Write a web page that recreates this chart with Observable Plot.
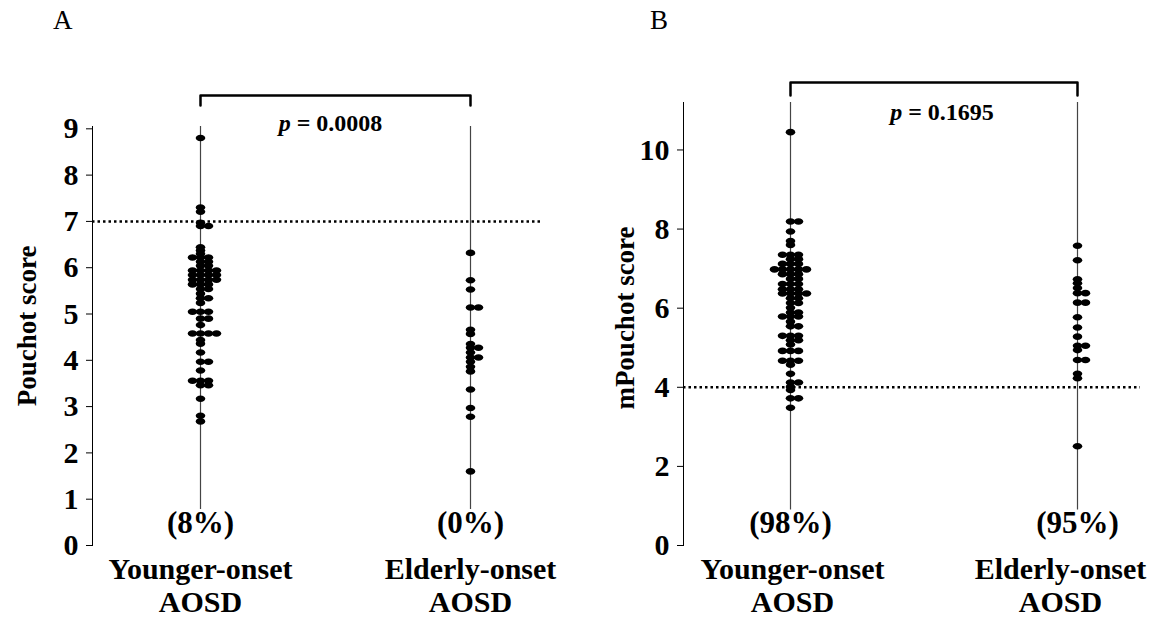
<!DOCTYPE html>
<html><head><meta charset="utf-8">
<script src="https://cdn.jsdelivr.net/npm/d3@7"></script>
<script src="https://cdn.jsdelivr.net/npm/@observablehq/plot@0.6"></script>
<style>
body{margin:0;background:#fff;}
#wrap{position:relative;width:1152px;height:621px;font-family:"Liberation Serif","Times New Roman",serif;overflow:hidden;}
.panel{position:absolute;top:0;}
.letter{position:absolute;top:7px;font-size:27px;line-height:1;font-family:"Liberation Serif","Times New Roman",serif;}
</style></head><body>
<div id="wrap"></div>
<script>
// ---- data ----
const groups = ["Younger-onset\nAOSD", "Elderly-onset\nAOSD"];
const pouchotYounger = [8.8, 7.3, 7.21, 6.97, 6.9, 6.9, 6.44, 6.37, 6.3, 6.22, 6.22, 6.22, 6.13, 6.13, 6.04, 6.04,
  5.94, 5.94, 5.94, 5.94, 5.84, 5.84, 5.84, 5.84, 5.74, 5.74, 5.74, 5.74, 5.64, 5.64, 5.64, 5.54, 5.54, 5.44,
  5.34, 5.34, 5.24, 5.05, 5.05, 5.05, 4.9, 4.9, 4.76, 4.58, 4.58, 4.58, 4.58, 4.44, 4.36, 4.17, 3.97, 3.97,
  3.78, 3.56, 3.56, 3.56, 3.46, 3.46, 3.17, 2.8, 2.68];
const pouchotElderly = [6.32, 5.73, 5.53, 5.14, 5.14, 4.66, 4.57, 4.35, 4.27, 4.27, 4.17, 4.06, 4.06, 3.97,
  3.86, 3.76, 3.37, 2.97, 2.78, 1.6];
const mPouchotYounger = [10.45, 8.19, 8.19, 7.94, 7.70, 7.60, 7.35, 7.35, 7.35, 7.24, 7.24, 7.12, 7.12, 7.12,
  6.98, 6.98, 6.98, 6.98, 6.98, 6.86, 6.86, 6.86, 6.74, 6.74, 6.61, 6.61, 6.61, 6.48, 6.48, 6.48, 6.37, 6.37,
  6.37, 6.37, 6.25, 6.25, 6.13, 6.13, 6.01, 5.89, 5.89, 5.79, 5.79, 5.79, 5.66, 5.54, 5.54, 5.30, 5.30, 5.30,
  5.19, 5.19, 5.08, 4.92, 4.92, 4.92, 4.67, 4.67, 4.67, 4.57, 4.34, 4.12, 4.12, 4.01, 3.93, 3.72, 3.72, 3.48];
const mPouchotElderly = [7.58, 7.21, 6.73, 6.63, 6.51, 6.38, 6.38, 6.14, 6.14, 5.77, 5.51, 5.28, 5.05, 5.05,
  4.94, 4.69, 4.69, 4.34, 4.23, 2.51];
const pouchotPercents = ["(8%)", "(0%)"];
const mPouchotPercents = ["(98%)", "(95%)"];
const pouchotTicks = [0, 1, 2, 3, 4, 5, 6, 7, 8, 9];
const mPouchotTicks = [0, 2, 4, 6, 8, 10];
const pouchotCutoff = [7];
const mPouchotCutoff = [4];
const pouchotPValue = "0.0008";
const mPouchotPValue = "0.1695";
const yLabels = ["Pouchot score", "mPouchot score"];
const panelLetters = ["A", "B"];

// ellipse-shaped dot symbol
const ellipseSymbol = {
  draw(ctx, size) {
    const r = Math.sqrt(size / Math.PI), rx = r * 1.45, ry = r, k = 0.5523;
    ctx.moveTo(rx, 0);
    ctx.bezierCurveTo(rx, k * ry, k * rx, ry, 0, ry);
    ctx.bezierCurveTo(-k * rx, ry, -rx, k * ry, -rx, 0);
    ctx.bezierCurveTo(-rx, -k * ry, -k * rx, -ry, 0, -ry);
    ctx.bezierCurveTo(k * rx, -ry, rx, -k * ry, rx, 0);
    ctx.closePath();
  }
};

// simple dot-plot layout: tied values spread sideways (center, right, left, ...)
function swarm(values, gi, pxPerUnit, spanPx, step = 8, minGap = 3) {
  const placed = [];
  return values.slice().sort((a, b) => b - a).map(v => {
    const ypx = v * pxPerUnit;
    for (let k = 0; ; k++) {
      const off = k === 0 ? 0 : (k % 2 ? 1 : -1) * Math.ceil(k / 2) * step;
      if (!placed.some(p => p.off === off && Math.abs(p.ypx - ypx) < minGap)) {
        placed.push({off, ypx});
        return {value: v, x: gi + off / spanPx};
      }
    }
  });
}

function panel(cfg) {
  const height = 621, width = 576, marginBottom = 76;
  const pxPerUnit = (height - cfg.marginTop - marginBottom) / cfg.domainTop;
  const span = cfg.xRange[1] - cfg.xRange[0];
  const dots = cfg.values.flatMap((vals, gi) => swarm(vals, gi, pxPerUnit, span));
  const cats = groups.map((g, i) => ({i, g, pct: cfg.percents[i], labelX: i + cfg.labelShift[i] / span}));
  const yBar = cfg.domainTop + cfg.barPx / pxPerUnit;
  const yEnd = yBar - cfg.barDrop / pxPerUnit;
  const bracket = [{x: 0, y: yEnd}, {x: 0, y: yBar}, {x: 1, y: yBar}, {x: 1, y: yEnd}];
  const pLabel = "p = " + cfg.pValue;
  const plot = Plot.plot({
    width, height, marginTop: cfg.marginTop, marginBottom, marginLeft: cfg.marginLeft, marginRight: cfg.marginRight,
    style: {fontFamily: "'Liberation Serif', 'Times New Roman', serif", fontWeight: "bold", fontSize: "30px",
      color: "black", background: "white", overflow: "visible"},
    x: {type: "linear", domain: [0, 1], range: cfg.xRange, axis: null},
    y: {domain: [0, cfg.domainTop], ticks: cfg.ticks, tickSize: 6, tickPadding: 8, line: true, label: null,
      tickFormat: d3.format("d")},
    marks: [
      Plot.ruleY(cfg.cutoff, {stroke: "black", strokeWidth: 2.5, strokeDasharray: "2.5,3"}),
      Plot.ruleX(cats, {x: "i", y1: cfg.lineBottom, y2: cfg.domainTop, stroke: "#444", strokeWidth: 1.2}),
      Plot.dot(dots, {x: "x", y: "value", r: 3.3, symbol: ellipseSymbol, fill: "black"}),
      Plot.text(cats, {x: "i", text: "pct", frameAnchor: "bottom", dy: -22, lineAnchor: "middle", fontSize: 31,
        fontWeight: "bold"}),
      Plot.text(cats, {x: "labelX", text: "g", frameAnchor: "bottom", dy: 39, fontSize: 30, lineHeight: 1.1,
        lineAnchor: "middle", fontWeight: "bold"}),
      Plot.text([cfg.yLabel], {frameAnchor: "left", textAnchor: "middle", rotate: -90, dx: cfg.labelDx,
        dy: cfg.labelDy, fontSize: 27, fontWeight: "bold"}),
      Plot.line(bracket, {x: "x", y: "y", stroke: "black", strokeWidth: 2.5}),
      Plot.text([{x: 0.5, t: pLabel}], {x: "x", text: "t", frameAnchor: "top", dx: cfg.pDx, dy: cfg.pDy,
        lineAnchor: "middle", fontSize: 24, fontWeight: "bold"})
    ]
  });
  d3.select(plot).selectAll("text").filter(function () { return this.textContent === pLabel; })
    .each(function () {
      const t = d3.select(this);
      t.text("");
      t.append("tspan").attr("font-style", "italic").text("p");
      t.append("tspan").text(" = " + cfg.pValue);
    });
  return plot;
}

const wrap = document.getElementById("wrap");
const cfgs = [
  {values: [pouchotYounger, pouchotElderly], percents: pouchotPercents, ticks: pouchotTicks, cutoff: pouchotCutoff,
   pValue: pouchotPValue, yLabel: yLabels[0], domainTop: 9.05, marginTop: 126, marginLeft: 92, marginRight: 36,
   xRange: [200, 470], lineBottom: 0.78, barPx: 31, barDrop: 10, pDx: -5, pDy: -3, labelDx: -65, labelDy: -10,
   labelShift: [0, 0], left: 0},
  {values: [mPouchotYounger, mPouchotElderly], percents: mPouchotPercents, ticks: mPouchotTicks, cutoff: mPouchotCutoff,
   pValue: mPouchotPValue, yLabel: yLabels[1], domainTop: 11.2, marginTop: 102, marginLeft: 107, marginRight: 12,
   xRange: [214, 501], lineBottom: 0.9, barPx: 20, barDrop: 13, pDx: 8, pDy: 10, labelDx: -58, labelDy: -6,
   labelShift: [2, -17], left: 576}
];
cfgs.forEach((cfg, i) => {
  const div = document.createElement("div");
  div.className = "panel";
  div.style.left = cfg.left + "px";
  div.appendChild(panel(cfg));
  wrap.appendChild(div);
  const letter = document.createElement("div");
  letter.className = "letter";
  letter.style.left = (cfg.left + (i ? 650 - 576 : 53)) + "px";
  letter.textContent = panelLetters[i];
  wrap.appendChild(letter);
});
</script>
</body></html>
